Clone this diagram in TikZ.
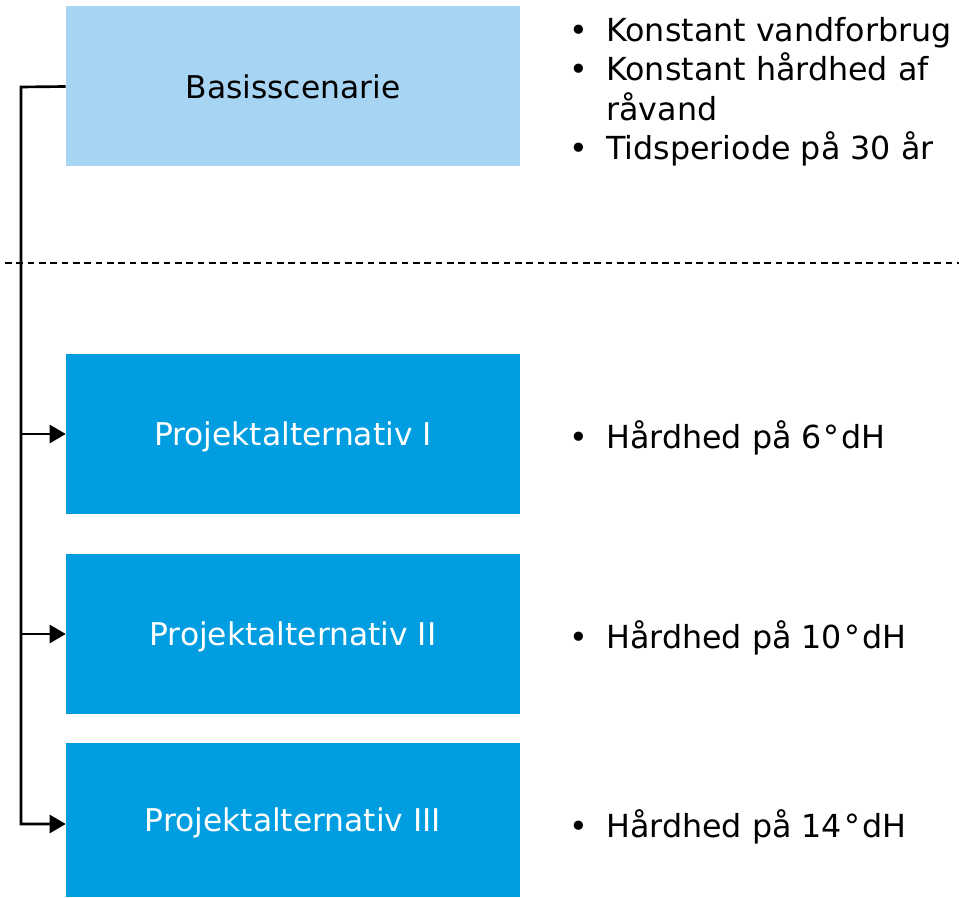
\documentclass[tikz,border=0pt]{standalone}
\usepackage{fontspec}
\setmainfont{DejaVu Sans}
\usetikzlibrary{arrows.meta}
\definecolor{lysblaa}{RGB}{168,212,243}
\definecolor{moerkblaa}{RGB}{0,158,224}
\newcommand{\punkt}{\makebox[27.75pt][l]{•}}
\newcommand{\grad}{\kern1.5pt°\kern1.5pt}
\begin{document}
\begin{tikzpicture}[x=0.75pt, y=-0.75pt,
	boks/.style={minimum width=340.5pt, minimum height=120pt, inner sep=0pt,
		text depth=0pt, font=\fontsize{23.5}{28.5}\selectfont},
	note/.style={anchor=base west, inner sep=0pt, font=\fontsize{23.8}{28.5}\selectfont},
	pil/.style={line width=2pt, -{Triangle[length=12pt, width=13.5pt]}}]
	\useasboundingbox (0,0) rectangle (959,898);
	% Scenarier
	\node[boks, fill=lysblaa] (basis) at (293,86.5) {Basisscenarie};
	\node[boks, fill=moerkblaa, text=white] (alt1) at (293,434) {Projektalternativ I};
	\node[boks, fill=moerkblaa, text=white] (alt2) at (293,634) {Projektalternativ II};
	\node[boks, fill=moerkblaa, text=white, minimum height=115.5pt] (alt3) at (293,820)
		{Projektalternativ III};
	% Skillelinje
	\coordinate (skil1) at (5,263);
	\coordinate (skil2) at (959,263);
	\draw[line width=1pt, dash pattern=on 5pt off 3.5pt] (skil1) -- (skil2);
	% Forbindelser
	\coordinate (ryg) at (21,87);
	\draw[pil] (basis.west) -- (ryg) |- ([yshift=-3pt]alt3.west);
	\draw[pil] (ryg |- alt1.west) -- (alt1.west);
	\draw[pil] (ryg |- alt2.west) -- (alt2.west);
	% Beskrivelser
	\node[note] (basisnoter) at (569,41.5) {\begin{tabular}[t]{@{}p{27.75pt}@{}l@{}}
		• & Konstant vandforbrug\\
		• & Konstant hårdhed af\\
		  & råvand\\
		• & Tidsperiode på 30 år
	\end{tabular}};
	\node[note] (note1) at (569,448) {\punkt Hårdhed på 6\grad dH};
	\node[note] (note2) at (569,648) {\punkt Hårdhed på 10\grad dH};
	\node[note] (note3) at (569,837) {\punkt Hårdhed på 14\grad dH};
\end{tikzpicture}
\end{document}
